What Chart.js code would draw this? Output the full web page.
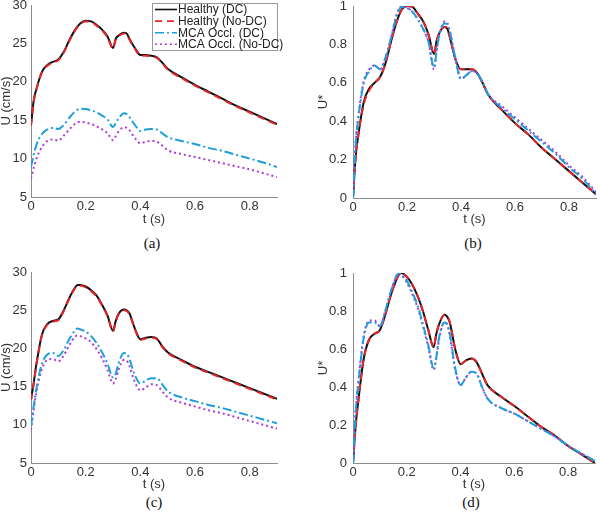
<!DOCTYPE html>
<html>
<head>
<meta charset="utf-8">
<script src="https://cdn.jsdelivr.net/npm/chart.js@4.4.0/dist/chart.umd.min.js"></script>
<style>
  body { margin: 0; background: #fff; }
  #fig { position: relative; width: 600px; height: 514px; overflow: hidden; }
  .panel { position: absolute; }
  .cap { position: absolute; width: 60px; text-align: center; font: 15px 'Liberation Serif', 'DejaVu Serif', serif; color: #111; line-height: 18px; }
</style>
</head>
<body>
<div id="fig">
  <canvas id="pa" class="panel" width="300" height="226" style="left:0;top:0"></canvas>
  <canvas id="pb" class="panel" width="300" height="226" style="left:300px;top:0"></canvas>
  <canvas id="pc" class="panel" width="300" height="236" style="left:0;top:255px"></canvas>
  <canvas id="pd" class="panel" width="300" height="236" style="left:300px;top:255px"></canvas>
  <div class="cap" style="left:122px;top:234px">(a)</div>
  <div class="cap" style="left:443px;top:234px">(b)</div>
  <div class="cap" style="left:124px;top:493px">(c)</div>
  <div class="cap" style="left:441px;top:493px">(d)</div>
</div>
<script>
// series names
const etiquetas = ['Healthy (DC)', 'Healthy (No-DC)', 'MCA Occl. (DC)', 'MCA Occl. (No-DC)']

// time samples (s)
const tAB = [0, 0.01, 0.02, 0.04, 0.06, 0.08, 0.1, 0.12, 0.14, 0.16, 0.18, 0.2, 0.22, 0.24, 0.26, 0.28, 0.3, 0.31, 0.32, 0.34, 0.35, 0.36, 0.38, 0.4, 0.42, 0.44, 0.46, 0.48, 0.5, 0.55, 0.6, 0.65, 0.7, 0.75, 0.8, 0.85, 0.9]
const tCD = [0, 0.01, 0.02, 0.04, 0.06, 0.08, 0.1, 0.12, 0.14, 0.16, 0.17, 0.18, 0.2, 0.22, 0.24, 0.26, 0.28, 0.3, 0.31, 0.32, 0.34, 0.35, 0.36, 0.38, 0.4, 0.42, 0.44, 0.46, 0.48, 0.5, 0.55, 0.6, 0.65, 0.7, 0.75, 0.8, 0.85, 0.9]

// (a) U (cm/s)
const aSaudavelDC = [14.35, 17.6, 19.1, 21.3, 22.2, 22.6, 22.9, 23.9, 25.4, 26.7, 27.6, 27.95, 27.87, 27.4, 26.8, 25.9, 24.4, 25.6, 26.0, 26.4, 26.3, 25.6, 24.4, 23.5, 23.5, 23.4, 23.2, 22.5, 21.7, 20.6, 19.6, 18.7, 17.8, 16.9, 16.1, 15.3, 14.5]
const aSaudavelNoDC = [14.3, 17.4, 19.0, 21.2, 22.1, 22.5, 22.8, 23.8, 25.3, 26.6, 27.5, 27.85, 27.8, 27.3, 26.7, 25.8, 24.3, 25.5, 25.9, 26.3, 26.2, 25.5, 24.3, 23.4, 23.4, 23.3, 23.1, 22.4, 21.6, 20.5, 19.5, 18.6, 17.7, 16.8, 16.0, 15.2, 14.4]
const aMcaDC = [8.9, 10.5, 11.8, 13.2, 13.8, 14.0, 13.85, 14.4, 15.3, 16.1, 16.5, 16.45, 16.3, 16.0, 15.6, 15.1, 14.1, 14.6, 15.2, 15.9, 15.8, 15.4, 14.4, 13.6, 13.8, 13.85, 13.8, 13.3, 12.8, 12.3, 11.9, 11.4, 11.0, 10.5, 10.0, 9.5, 8.9]
const aMcaNoDC = [7.4, 8.8, 10.0, 11.5, 12.3, 12.5, 12.35, 13.0, 13.8, 14.5, 14.8, 14.7, 14.5, 14.2, 13.8, 13.3, 12.4, 12.9, 13.5, 14.1, 14.0, 13.7, 12.7, 12.0, 12.2, 12.3, 12.2, 11.7, 11.1, 10.6, 10.2, 9.8, 9.4, 9.0, 8.6, 8.1, 7.6]

// (b) U*
const bSaudavelDC = [0, 0.22, 0.33, 0.5, 0.57, 0.6, 0.63, 0.7, 0.81, 0.91, 0.98, 1.0, 0.995, 0.96, 0.92, 0.85, 0.75, 0.82, 0.86, 0.89, 0.88, 0.83, 0.72, 0.67, 0.67, 0.67, 0.65, 0.6, 0.54, 0.46, 0.39, 0.33, 0.26, 0.2, 0.14, 0.08, 0.02]
const bSaudavelNoDC = [0, 0.21, 0.33, 0.49, 0.56, 0.6, 0.63, 0.7, 0.81, 0.91, 0.98, 1.0, 0.995, 0.96, 0.92, 0.85, 0.75, 0.82, 0.86, 0.89, 0.88, 0.83, 0.72, 0.67, 0.67, 0.67, 0.65, 0.6, 0.54, 0.46, 0.39, 0.33, 0.26, 0.2, 0.14, 0.08, 0.02]
const bMcaDC = [0, 0.28, 0.42, 0.6, 0.66, 0.69, 0.67, 0.73, 0.83, 0.94, 0.995, 0.99, 0.97, 0.93, 0.88, 0.81, 0.68, 0.77, 0.85, 0.91, 0.9, 0.86, 0.72, 0.62, 0.64, 0.66, 0.65, 0.6, 0.54, 0.47, 0.41, 0.35, 0.29, 0.23, 0.16, 0.1, 0.02]
const bMcaNoDC = [0, 0.29, 0.43, 0.61, 0.67, 0.69, 0.67, 0.73, 0.83, 0.95, 1.0, 0.99, 0.97, 0.93, 0.88, 0.81, 0.67, 0.77, 0.85, 0.92, 0.91, 0.86, 0.72, 0.62, 0.64, 0.66, 0.65, 0.6, 0.54, 0.48, 0.42, 0.36, 0.3, 0.24, 0.17, 0.11, 0.03]

// (c) U (cm/s)
const cSaudavelDC = [13.3, 15.5, 18.0, 21.8, 23.2, 23.6, 23.8, 25.0, 26.6, 27.9, 28.3, 28.3, 28.1, 27.6, 26.9, 25.7, 24.3, 22.3, 23.6, 24.5, 25.1, 25.0, 24.6, 22.6, 21.2, 21.4, 21.5, 21.3, 20.3, 19.5, 18.5, 17.6, 16.9, 16.2, 15.5, 14.8, 14.1, 13.4]
const cSaudavelNoDC = [13.2, 15.4, 17.9, 21.7, 23.1, 23.5, 23.7, 24.9, 26.5, 27.8, 28.2, 28.2, 28.0, 27.5, 26.8, 25.6, 24.2, 22.2, 23.5, 24.4, 25.0, 24.9, 24.5, 22.5, 21.1, 21.3, 21.4, 21.2, 20.2, 19.4, 18.4, 17.5, 16.8, 16.1, 15.4, 14.7, 14.0, 13.3]
const cMcaDC = [9.8, 12.5, 14.8, 18.0, 19.2, 19.4, 19.0, 19.8, 21.2, 22.3, 22.6, 22.5, 22.2, 21.6, 20.7, 19.5, 18.0, 16.2, 16.7, 18.0, 19.4, 19.3, 18.6, 16.5, 15.4, 15.8, 16.1, 16.1, 15.3, 14.4, 13.6, 13.1, 12.6, 12.2, 11.7, 11.2, 10.7, 10.2]
const cMcaNoDC = [9.3, 12.0, 14.3, 17.3, 18.5, 18.6, 18.3, 19.1, 20.4, 21.5, 21.7, 21.6, 21.3, 20.8, 19.9, 18.7, 17.2, 15.4, 16.0, 17.2, 18.5, 18.4, 17.7, 15.6, 14.5, 14.9, 15.3, 15.2, 14.4, 13.6, 12.9, 12.4, 11.9, 11.5, 11.0, 10.5, 10.0, 9.5]

// (d) U*
const dSaudavelDC = [0, 0.2, 0.33, 0.55, 0.65, 0.68, 0.7, 0.78, 0.88, 0.96, 0.99, 1.0, 0.98, 0.94, 0.88, 0.8, 0.7, 0.61, 0.68, 0.73, 0.78, 0.77, 0.74, 0.6, 0.52, 0.54, 0.55, 0.53, 0.47, 0.41, 0.35, 0.3, 0.245, 0.19, 0.145, 0.09, 0.045, 0.0]
const dSaudavelNoDC = [0, 0.19, 0.33, 0.55, 0.65, 0.68, 0.7, 0.78, 0.88, 0.96, 0.99, 1.0, 0.98, 0.94, 0.88, 0.8, 0.7, 0.61, 0.68, 0.73, 0.78, 0.77, 0.74, 0.6, 0.52, 0.54, 0.55, 0.53, 0.47, 0.41, 0.35, 0.3, 0.245, 0.19, 0.145, 0.09, 0.045, 0.0]
const dMcaDC = [0, 0.27, 0.42, 0.66, 0.74, 0.74, 0.72, 0.8, 0.9, 0.98, 1.0, 0.99, 0.96, 0.9, 0.83, 0.73, 0.62, 0.5, 0.56, 0.66, 0.74, 0.73, 0.68, 0.5, 0.41, 0.45, 0.48, 0.47, 0.4, 0.34, 0.29, 0.26, 0.22, 0.18, 0.14, 0.09, 0.05, 0.01]
const dMcaNoDC = [0, 0.28, 0.43, 0.67, 0.75, 0.75, 0.72, 0.8, 0.9, 0.98, 1.0, 0.99, 0.95, 0.89, 0.82, 0.72, 0.61, 0.49, 0.55, 0.65, 0.74, 0.73, 0.67, 0.49, 0.41, 0.45, 0.48, 0.47, 0.4, 0.34, 0.29, 0.26, 0.22, 0.18, 0.14, 0.09, 0.05, 0.01]

// tick labels
const ticksT = [0, 0.2, 0.4, 0.6, 0.8]
const ticksU = [5, 10, 15, 20, 25, 30]
const ticksUstar = [0, 0.2, 0.4, 0.6, 0.8, 1]

const estilos = [
    { cor: '#111111', traco: [], largura: 2, ordem: 4 },
    { cor: '#e8262a', traco: [7, 5], largura: 2, ordem: 3 },
    { cor: '#1c9fdc', traco: [9, 3, 2, 3], largura: 2, ordem: 1 },
    { cor: '#b03ad6', traco: [2, 3], largura: 2, ordem: 2 }
]

const fonte = "'Liberation Sans', Arial, sans-serif"

const legendaPlugin = {
    id: 'legendaDentro',
    afterDraw(chart, args, opts) {
        if (!opts.mostrar) return
        const ctx = chart.ctx
        ctx.save()
        ctx.fillStyle = '#fff'
        ctx.strokeStyle = '#999'
        ctx.lineWidth = 1
        ctx.fillRect(152.5, 3.5, 125, 47)
        ctx.strokeRect(152.5, 3.5, 125, 47)
        chart.data.datasets.forEach((ds, i) => {
            const y = 9.5 + i * 11.6
            ctx.beginPath()
            ctx.setLineDash(ds.borderDash)
            ctx.strokeStyle = ds.borderColor
            ctx.lineWidth = 1.6
            ctx.moveTo(155, y)
            ctx.lineTo(177, y)
            ctx.stroke()
            ctx.setLineDash([])
            ctx.fillStyle = '#222'
            ctx.font = '12px ' + fonte
            ctx.textBaseline = 'middle'
            ctx.fillText(ds.label, 178, y + 0.5)
        })
        ctx.restore()
    }
}

function montarGrafico(id, tempos, series, cfg) {
    const datasets = series.map((valores, i) => ({
        label: etiquetas[i],
        data: valores.map((v, k) => ({ x: tempos[k], y: v })),
        borderColor: estilos[i].cor,
        borderDash: estilos[i].traco,
        borderWidth: estilos[i].largura,
        order: estilos[i].ordem,
        pointRadius: 0,
        fill: false,
        cubicInterpolationMode: 'monotone'
    }))

    return new Chart(document.getElementById(id), {
        type: 'line',
        data: { datasets },
        options: {
            responsive: false,
            animation: false,
            devicePixelRatio: 1,
            layout: { padding: cfg.padding },
            plugins: {
                legend: { display: false },
                tooltip: { enabled: false },
                legendaDentro: { mostrar: !!cfg.legenda }
            },
            scales: {
                x: {
                    type: 'linear',
                    min: 0,
                    max: 0.9,
                    afterBuildTicks: s => { s.ticks = ticksT.map(v => ({ value: v })) },
                    afterFit: s => { s.height = cfg.alturaX; s.paddingLeft = 0; s.paddingRight = 0 },
                    grid: { display: false, drawTicks: false },
                    border: { display: true, color: '#8c8c8c', width: 1 },
                    ticks: { font: { family: fonte, size: 13 }, color: '#333', padding: 2, maxRotation: 0, callback: v => String(v) },
                    title: { display: true, text: 't (s)', font: { family: fonte, size: 13, lineHeight: 1 }, color: '#333', padding: 0 }
                },
                y: {
                    type: 'linear',
                    min: cfg.yMin,
                    max: cfg.yMax,
                    afterBuildTicks: s => { s.ticks = cfg.ticksY.map(v => ({ value: v })) },
                    afterFit: s => { s.width = cfg.larguraY; s.paddingTop = 0; s.paddingBottom = 0 },
                    grid: { display: false, drawTicks: false },
                    border: { display: true, color: '#8c8c8c', width: 1 },
                    ticks: { font: { family: fonte, size: 13 }, color: '#333', padding: cfg.padTick, callback: v => String(v) },
                    title: { display: true, text: cfg.tituloY, font: { family: fonte, size: 13, lineHeight: 1 }, color: '#333', padding: 0 }
                }
            }
        },
        plugins: [legendaPlugin]
    })
}

montarGrafico('pa', tAB, [aSaudavelDC, aSaudavelNoDC, aMcaDC, aMcaNoDC], {
    padding: { top: 5, right: 23, left: 0, bottom: 0 }, alturaX: 29, larguraY: 31, padTick: 4,
    yMin: 5, yMax: 30, ticksY: ticksU, tituloY: 'U (cm/s)', legenda: true
})
montarGrafico('pb', tAB, [bSaudavelDC, bSaudavelNoDC, bMcaDC, bMcaNoDC], {
    padding: { top: 6, right: 4, left: 17, bottom: 0 }, alturaX: 28, larguraY: 36, padTick: 6,
    yMin: 0, yMax: 1, ticksY: ticksUstar, tituloY: 'U*'
})
montarGrafico('pc', tCD, [cSaudavelDC, cSaudavelNoDC, cMcaDC, cMcaNoDC], {
    padding: { top: 17, right: 23, left: 0, bottom: 0 }, alturaX: 28, larguraY: 31, padTick: 4,
    yMin: 5, yMax: 30, ticksY: ticksU, tituloY: 'U (cm/s)'
})
montarGrafico('pd', tCD, [dSaudavelDC, dSaudavelNoDC, dMcaDC, dMcaNoDC], {
    padding: { top: 18, right: 5, left: 17, bottom: 0 }, alturaX: 28, larguraY: 36, padTick: 6,
    yMin: 0, yMax: 1, ticksY: ticksUstar, tituloY: 'U*'
})
</script>
</body>
</html>
